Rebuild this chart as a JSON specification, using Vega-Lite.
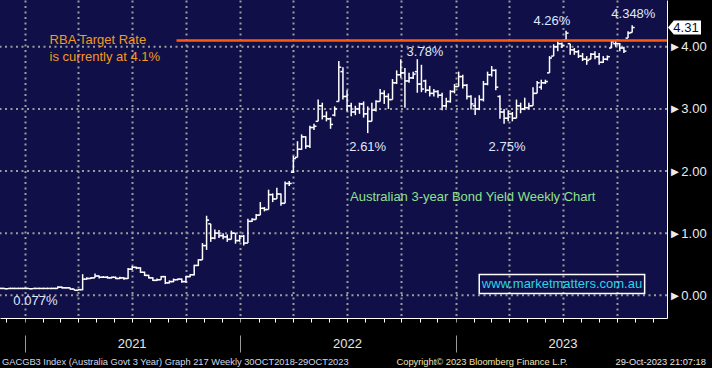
{
  "$schema": "https://vega.github.io/schema/vega-lite/v6.json",
  "width": 667,
  "height": 318,
  "autosize": "none",
  "padding": {"left": 0, "top": 0, "right": 45, "bottom": 50},
  "background": "#000000",
  "config": {
    "view": {"fill": "#110f47", "stroke": null},
    "font": "Liberation Sans"
  },
  "title": {
    "text": "GACGB3 Index (Australia Govt 3 Year) Graph 217  Weekly 30OCT2018-29OCT2023",
    "orient": "top", "anchor": "start", "frame": "group", "offset": 0, "dx": 2, "dy": 371,
    "font": "Liberation Sans", "fontSize": 9.3, "fontWeight": "normal",
    "color": "#d0d9ea", "baseline": "middle"
  },
  "datasets": {
    "bars": [
      {"d":"2020-11-20","o":0.11,"h":0.12,"l":0.10,"c":0.11},
      {"d":"2020-11-27","o":0.11,"h":0.12,"l":0.10,"c":0.105},
      {"d":"2020-12-04","o":0.105,"h":0.115,"l":0.10,"c":0.11},
      {"d":"2020-12-11","o":0.11,"h":0.12,"l":0.10,"c":0.11},
      {"d":"2020-12-18","o":0.11,"h":0.115,"l":0.10,"c":0.11},
      {"d":"2020-12-25","o":0.11,"h":0.12,"l":0.10,"c":0.11},
      {"d":"2021-01-01","o":0.11,"h":0.12,"l":0.105,"c":0.11},
      {"d":"2021-01-08","o":0.11,"h":0.115,"l":0.10,"c":0.105},
      {"d":"2021-01-15","o":0.105,"h":0.115,"l":0.10,"c":0.11},
      {"d":"2021-01-22","o":0.11,"h":0.115,"l":0.10,"c":0.11},
      {"d":"2021-01-29","o":0.11,"h":0.115,"l":0.10,"c":0.11},
      {"d":"2021-02-05","o":0.11,"h":0.115,"l":0.10,"c":0.11},
      {"d":"2021-02-12","o":0.11,"h":0.115,"l":0.105,"c":0.11},
      {"d":"2021-02-19","o":0.11,"h":0.12,"l":0.10,"c":0.11},
      {"d":"2021-02-26","o":0.11,"h":0.145,"l":0.11,"c":0.13},
      {"d":"2021-03-05","o":0.13,"h":0.14,"l":0.11,"c":0.12},
      {"d":"2021-03-12","o":0.12,"h":0.13,"l":0.11,"c":0.12},
      {"d":"2021-03-19","o":0.12,"h":0.12,"l":0.09,"c":0.10},
      {"d":"2021-03-26","o":0.10,"h":0.10,"l":0.077,"c":0.08},
      {"d":"2021-04-02","o":0.08,"h":0.10,"l":0.08,"c":0.09},
      {"d":"2021-04-09","o":0.09,"h":0.34,"l":0.08,"c":0.26},
      {"d":"2021-04-16","o":0.26,"h":0.29,"l":0.25,"c":0.27},
      {"d":"2021-04-23","o":0.27,"h":0.29,"l":0.26,"c":0.28},
      {"d":"2021-04-30","o":0.28,"h":0.35,"l":0.28,"c":0.31},
      {"d":"2021-05-07","o":0.31,"h":0.32,"l":0.27,"c":0.29},
      {"d":"2021-05-14","o":0.29,"h":0.31,"l":0.28,"c":0.29},
      {"d":"2021-05-21","o":0.29,"h":0.31,"l":0.27,"c":0.28},
      {"d":"2021-05-28","o":0.28,"h":0.30,"l":0.27,"c":0.29},
      {"d":"2021-06-04","o":0.29,"h":0.30,"l":0.26,"c":0.27},
      {"d":"2021-06-11","o":0.27,"h":0.30,"l":0.26,"c":0.28},
      {"d":"2021-06-18","o":0.28,"h":0.29,"l":0.25,"c":0.27},
      {"d":"2021-06-25","o":0.27,"h":0.44,"l":0.26,"c":0.42},
      {"d":"2021-07-02","o":0.42,"h":0.47,"l":0.41,"c":0.45},
      {"d":"2021-07-09","o":0.45,"h":0.46,"l":0.42,"c":0.44},
      {"d":"2021-07-16","o":0.44,"h":0.45,"l":0.36,"c":0.37},
      {"d":"2021-07-23","o":0.37,"h":0.38,"l":0.31,"c":0.32},
      {"d":"2021-07-30","o":0.32,"h":0.33,"l":0.27,"c":0.28},
      {"d":"2021-08-06","o":0.28,"h":0.29,"l":0.23,"c":0.24},
      {"d":"2021-08-13","o":0.24,"h":0.27,"l":0.23,"c":0.25},
      {"d":"2021-08-20","o":0.25,"h":0.31,"l":0.25,"c":0.30},
      {"d":"2021-08-27","o":0.30,"h":0.31,"l":0.18,"c":0.20},
      {"d":"2021-09-03","o":0.20,"h":0.24,"l":0.19,"c":0.22},
      {"d":"2021-09-10","o":0.22,"h":0.27,"l":0.21,"c":0.25},
      {"d":"2021-09-17","o":0.25,"h":0.27,"l":0.24,"c":0.26},
      {"d":"2021-09-24","o":0.26,"h":0.27,"l":0.20,"c":0.22},
      {"d":"2021-10-01","o":0.22,"h":0.31,"l":0.20,"c":0.30},
      {"d":"2021-10-08","o":0.30,"h":0.34,"l":0.29,"c":0.33},
      {"d":"2021-10-15","o":0.33,"h":0.49,"l":0.32,"c":0.48},
      {"d":"2021-10-22","o":0.48,"h":0.58,"l":0.47,"c":0.57},
      {"d":"2021-10-29","o":0.57,"h":0.84,"l":0.57,"c":0.80},
      {"d":"2021-11-05","o":0.80,"h":1.28,"l":0.73,"c":1.21},
      {"d":"2021-11-12","o":1.15,"h":1.15,"l":0.86,"c":0.92},
      {"d":"2021-11-19","o":0.92,"h":1.06,"l":0.90,"c":1.00},
      {"d":"2021-11-26","o":1.00,"h":1.05,"l":0.92,"c":0.96},
      {"d":"2021-12-03","o":0.96,"h":1.00,"l":0.90,"c":0.94},
      {"d":"2021-12-10","o":0.94,"h":0.98,"l":0.86,"c":0.90},
      {"d":"2021-12-17","o":0.90,"h":1.04,"l":0.90,"c":1.00},
      {"d":"2021-12-24","o":1.00,"h":1.00,"l":0.83,"c":0.88},
      {"d":"2021-12-31","o":0.88,"h":0.97,"l":0.86,"c":0.95},
      {"d":"2022-01-07","o":0.95,"h":0.97,"l":0.80,"c":0.84},
      {"d":"2022-01-14","o":0.84,"h":1.23,"l":0.84,"c":1.19},
      {"d":"2022-01-21","o":1.19,"h":1.24,"l":1.18,"c":1.22},
      {"d":"2022-01-28","o":1.22,"h":1.31,"l":1.22,"c":1.29},
      {"d":"2022-02-04","o":1.29,"h":1.50,"l":1.29,"c":1.40},
      {"d":"2022-02-11","o":1.40,"h":1.42,"l":1.35,"c":1.38},
      {"d":"2022-02-18","o":1.38,"h":1.70,"l":1.38,"c":1.62},
      {"d":"2022-02-25","o":1.62,"h":1.64,"l":1.50,"c":1.55},
      {"d":"2022-03-04","o":1.55,"h":1.73,"l":1.55,"c":1.63},
      {"d":"2022-03-11","o":1.63,"h":1.64,"l":1.44,"c":1.48},
      {"d":"2022-03-18","o":1.48,"h":1.83,"l":1.48,"c":1.80},
      {"d":"2022-03-25","o":1.80,"h":1.84,"l":1.76,"c":1.80},
      {"d":"2022-04-01","o":1.98,"h":2.24,"l":1.97,"c":2.20},
      {"d":"2022-04-08","o":2.22,"h":2.48,"l":2.22,"c":2.35},
      {"d":"2022-04-15","o":2.35,"h":2.59,"l":2.34,"c":2.55},
      {"d":"2022-04-22","o":2.55,"h":2.56,"l":2.36,"c":2.40},
      {"d":"2022-04-29","o":2.40,"h":2.73,"l":2.37,"c":2.70},
      {"d":"2022-05-06","o":2.70,"h":2.76,"l":2.66,"c":2.72},
      {"d":"2022-05-13","o":2.80,"h":3.15,"l":2.80,"c":3.05},
      {"d":"2022-05-20","o":3.05,"h":3.10,"l":2.83,"c":2.88},
      {"d":"2022-05-27","o":2.88,"h":2.96,"l":2.80,"c":2.84},
      {"d":"2022-06-03","o":2.84,"h":2.86,"l":2.68,"c":2.75},
      {"d":"2022-06-10","o":2.90,"h":3.04,"l":2.88,"c":3.00},
      {"d":"2022-06-17","o":3.12,"h":3.77,"l":3.12,"c":3.67},
      {"d":"2022-06-24","o":3.60,"h":3.67,"l":3.15,"c":3.20},
      {"d":"2022-07-01","o":3.20,"h":3.30,"l":2.96,"c":3.05},
      {"d":"2022-07-08","o":3.05,"h":3.10,"l":2.88,"c":2.95},
      {"d":"2022-07-15","o":2.95,"h":3.05,"l":2.90,"c":3.00},
      {"d":"2022-07-22","o":3.00,"h":3.10,"l":2.92,"c":3.08},
      {"d":"2022-07-29","o":3.08,"h":3.12,"l":2.86,"c":2.92},
      {"d":"2022-08-05","o":2.92,"h":3.04,"l":2.61,"c":2.80},
      {"d":"2022-08-12","o":2.80,"h":3.10,"l":2.80,"c":2.98},
      {"d":"2022-08-19","o":2.98,"h":3.14,"l":2.96,"c":3.12},
      {"d":"2022-08-26","o":3.12,"h":3.32,"l":3.12,"c":3.25},
      {"d":"2022-09-02","o":3.25,"h":3.30,"l":3.08,"c":3.20},
      {"d":"2022-09-09","o":3.20,"h":3.25,"l":3.00,"c":3.15},
      {"d":"2022-09-16","o":3.15,"h":3.48,"l":3.15,"c":3.42},
      {"d":"2022-09-23","o":3.42,"h":3.62,"l":3.40,"c":3.55},
      {"d":"2022-09-30","o":3.55,"h":3.80,"l":3.50,"c":3.58},
      {"d":"2022-10-07","o":3.58,"h":3.66,"l":3.02,"c":3.45},
      {"d":"2022-10-14","o":3.45,"h":3.58,"l":3.42,"c":3.50},
      {"d":"2022-10-21","o":3.50,"h":3.60,"l":3.48,"c":3.56},
      {"d":"2022-10-28","o":3.60,"h":3.80,"l":3.26,"c":3.40},
      {"d":"2022-11-04","o":3.40,"h":3.71,"l":3.27,"c":3.32},
      {"d":"2022-11-11","o":3.45,"h":3.47,"l":3.26,"c":3.30},
      {"d":"2022-11-18","o":3.30,"h":3.37,"l":3.20,"c":3.25},
      {"d":"2022-11-25","o":3.25,"h":3.32,"l":3.20,"c":3.28},
      {"d":"2022-12-02","o":3.28,"h":3.30,"l":3.18,"c":3.22},
      {"d":"2022-12-09","o":3.22,"h":3.26,"l":2.98,"c":3.05},
      {"d":"2022-12-16","o":3.05,"h":3.18,"l":3.02,"c":3.12},
      {"d":"2022-12-23","o":3.12,"h":3.30,"l":3.10,"c":3.28},
      {"d":"2022-12-30","o":3.28,"h":3.40,"l":3.25,"c":3.36},
      {"d":"2023-01-06","o":3.36,"h":3.60,"l":3.36,"c":3.52},
      {"d":"2023-01-13","o":3.52,"h":3.55,"l":3.33,"c":3.38},
      {"d":"2023-01-20","o":3.38,"h":3.40,"l":3.15,"c":3.20},
      {"d":"2023-01-27","o":3.20,"h":3.22,"l":2.99,"c":3.08},
      {"d":"2023-02-03","o":3.05,"h":3.18,"l":2.90,"c":3.00},
      {"d":"2023-02-10","o":3.00,"h":3.22,"l":2.98,"c":3.15},
      {"d":"2023-02-17","o":3.15,"h":3.45,"l":3.12,"c":3.40},
      {"d":"2023-02-24","o":3.40,"h":3.60,"l":3.38,"c":3.55},
      {"d":"2023-03-03","o":3.55,"h":3.69,"l":3.52,"c":3.62},
      {"d":"2023-03-10","o":3.62,"h":3.64,"l":3.30,"c":3.35},
      {"d":"2023-03-17","o":3.20,"h":3.22,"l":2.84,"c":2.95},
      {"d":"2023-03-24","o":2.95,"h":3.00,"l":2.76,"c":2.85},
      {"d":"2023-03-31","o":2.85,"h":2.98,"l":2.80,"c":2.92},
      {"d":"2023-04-07","o":2.92,"h":2.95,"l":2.80,"c":2.85},
      {"d":"2023-04-14","o":2.85,"h":3.15,"l":2.85,"c":3.05},
      {"d":"2023-04-21","o":3.05,"h":3.10,"l":2.93,"c":3.00},
      {"d":"2023-04-28","o":3.00,"h":3.18,"l":2.98,"c":3.02},
      {"d":"2023-05-05","o":3.02,"h":3.10,"l":2.99,"c":3.05},
      {"d":"2023-05-12","o":3.05,"h":3.35,"l":3.05,"c":3.25},
      {"d":"2023-05-19","o":3.25,"h":3.45,"l":3.25,"c":3.42},
      {"d":"2023-05-26","o":3.35,"h":3.47,"l":3.31,"c":3.42},
      {"d":"2023-06-02","o":3.42,"h":3.47,"l":3.40,"c":3.44},
      {"d":"2023-06-09","o":3.58,"h":3.85,"l":3.58,"c":3.82},
      {"d":"2023-06-16","o":3.85,"h":4.04,"l":3.85,"c":4.00},
      {"d":"2023-06-23","o":4.00,"h":4.09,"l":3.93,"c":4.05},
      {"d":"2023-06-30","o":4.05,"h":4.07,"l":3.98,"c":4.02},
      {"d":"2023-07-07","o":4.10,"h":4.26,"l":4.09,"c":4.22},
      {"d":"2023-07-14","o":4.05,"h":4.05,"l":3.87,"c":3.95},
      {"d":"2023-07-21","o":3.95,"h":3.98,"l":3.87,"c":3.92},
      {"d":"2023-07-28","o":3.92,"h":3.95,"l":3.82,"c":3.85},
      {"d":"2023-08-04","o":3.85,"h":3.90,"l":3.77,"c":3.80},
      {"d":"2023-08-11","o":3.80,"h":3.85,"l":3.71,"c":3.78},
      {"d":"2023-08-18","o":3.80,"h":3.90,"l":3.80,"c":3.88},
      {"d":"2023-08-25","o":3.88,"h":3.93,"l":3.80,"c":3.84},
      {"d":"2023-09-01","o":3.84,"h":3.90,"l":3.71,"c":3.75},
      {"d":"2023-09-08","o":3.75,"h":3.85,"l":3.74,"c":3.80},
      {"d":"2023-09-15","o":3.80,"h":3.86,"l":3.78,"c":3.84},
      {"d":"2023-09-22","o":3.98,"h":4.11,"l":3.98,"c":4.08},
      {"d":"2023-09-29","o":4.05,"h":4.11,"l":4.00,"c":4.05},
      {"d":"2023-10-06","o":4.05,"h":4.06,"l":3.93,"c":3.98},
      {"d":"2023-10-13","o":3.98,"h":4.00,"l":3.90,"c":3.93},
      {"d":"2023-10-20","o":4.14,"h":4.25,"l":4.14,"c":4.22},
      {"d":"2023-10-27","o":4.23,"h":4.348,"l":4.23,"c":4.31}
    ]
  },
  "layer": [
    {
      "mark": {"type": "rect", "color": "#110f47"},
      "encoding": {
        "x": {"datum": {"year": 2023, "month": 12, "date": 25, "utc": true}, "type": "temporal"},
        "x2": {"datum": {"year": 2024, "month": 6, "date": 1, "utc": true}},
        "y": {"datum": 4.753, "type": "quantitative"},
        "y2": {"datum": -0.366}
      }
    },
    {
      "data": {"values": [{"g": 0}, {"g": 1}, {"g": 2}, {"g": 3}, {"g": 4}]},
      "mark": {"type": "rule", "color": "#9c9c9c", "strokeWidth": 2, "strokeDash": [2, 3.5]},
      "encoding": {"y": {"field": "g", "type": "quantitative"}}
    },
    {
      "data": {"name": "bars"},
      "mark": {"type": "rule", "color": "#ffffff", "strokeWidth": 1.5, "clip": true},
      "encoding": {
        "x": {
          "field": "d", "type": "temporal",
          "scale": {"type": "utc", "domain": [{"year": 2020, "month": 11, "date": 20, "utc": true}, {"year": 2023, "month": 12, "date": 25, "utc": true}]},
          "axis": {
            "title": "Copyright© 2023 Bloomberg Finance L.P.",
            "titleX": 396, "titleY": 43, "titleAlign": "left", "titleBaseline": "middle",
            "titleFont": "Liberation Sans", "titleFontSize": 9.3, "titleFontWeight": "normal", "titleColor": "#f2e3b0",
            "tickCount": {"interval": "month", "step": 1},
            "tickSize": {"condition": {"test": "utcmonth(datum.value) == 0", "value": 34}, "value": 4},
            "tickDash": {"condition": {"test": "utcmonth(datum.value) == 0", "value": [4, 13, 17, 100]}, "value": [4, 0]},
            "tickColor": {"condition": {"test": "utcmonth(datum.value) == 0", "value": "#9a9a9a"}, "value": "#ffffff"},
            "tickWidth": 1,
            "labelExpr": "utcmonth(datum.value) == 6 ? utcFormat(datum.value, '%Y') : ''",
            "labelColor": "#e6e6e6", "labelFontSize": 13, "labelPadding": 15,
            "labelOverlap": false, "labelFlush": false, "labelBound": false,
            "grid": true, "gridColor": "#9c9c9c", "gridDash": [2, 3.5], "gridWidth": 2,
            "gridOpacity": {"condition": {"test": "utcmonth(datum.value) % 3 == 0", "value": 1}, "value": 0},
            "domainColor": "#ffffff"
          }
        },
        "y": {
          "field": "l", "type": "quantitative",
          "scale": {"domain": [-0.366, 4.753], "nice": false, "zero": false},
          "axis": {
            "orient": "right", "values": [0, 0.5, 1, 1.5, 2, 2.5, 3, 3.5, 4, 4.5],
            "labelExpr": "datum.value % 1 == 0 ? '►' + format(datum.value, '.2f') : ''",
            "grid": false, "zindex": 1,
            "tickColor": "#ffffff", "tickSize": 4,
            "tickOpacity": {"condition": {"test": "datum.value % 1 == 0", "value": 0}, "value": 1},
            "labelColor": "#ebebeb", "labelFontSize": 13, "labelPadding": -3, "labelBaseline": "middle",
            "domainColor": "#ffffff",
            "title": "29-Oct-2023 21:07:18", "titleAngle": 0, "titleX": -52, "titleY": 361,
            "titleAlign": "left", "titleBaseline": "middle",
            "titleFont": "Liberation Sans", "titleFontSize": 9.3, "titleFontWeight": "normal", "titleColor": "#e6e6e6"
          }
        },
        "y2": {"field": "h"}
      }
    },
    {
      "data": {"name": "bars"},
      "mark": {"type": "rule", "color": "#ffffff", "strokeWidth": 1.5, "xOffset": -2.5, "clip": true},
      "encoding": {
        "x": {"field": "d", "type": "temporal"},
        "x2": {"field": "d"},
        "y": {"field": "o", "type": "quantitative"}
      }
    },
    {
      "data": {"name": "bars"},
      "mark": {"type": "rule", "color": "#ffffff", "strokeWidth": 1.5, "x2Offset": 2.5, "clip": true},
      "encoding": {
        "x": {"field": "d", "type": "temporal"},
        "x2": {"field": "d"},
        "y": {"field": "c", "type": "quantitative"}
      }
    },
    {
      "data": {"values": [{"d1": "2021-09-15", "d2": "2023-12-25", "rate": 4.1}]},
      "mark": {"type": "rule", "color": "#ff5a0e", "strokeWidth": 2.5},
      "encoding": {
        "x": {"field": "d1", "type": "temporal"},
        "x2": {"field": "d2"},
        "y": {"field": "rate", "type": "quantitative"}
      }
    },
    {
      "data": {"values": [
        {"d": "2021-02-12", "v": 4.11, "t": "RBA Target Rate"},
        {"d": "2021-02-12", "v": 3.84, "t": "is currently at 4.1%"}
      ]},
      "mark": {"type": "text", "align": "left", "baseline": "middle", "fontSize": 13, "color": "#f39a1f"},
      "encoding": {
        "x": {"field": "d", "type": "temporal"},
        "y": {"field": "v", "type": "quantitative"},
        "text": {"field": "t"}
      }
    },
    {
      "data": {"values": [
        {"d": "2022-11-10", "v": 3.91, "t": "3.78%"},
        {"d": "2022-08-05", "v": 2.38, "t": "2.61%"},
        {"d": "2023-03-29", "v": 2.38, "t": "2.75%"},
        {"d": "2023-06-13", "v": 4.41, "t": "4.26%"},
        {"d": "2023-10-29", "v": 4.52, "t": "4.348%"},
        {"d": "2021-01-19", "v": -0.097, "t": "0.077%"}
      ]},
      "mark": {"type": "text", "align": "center", "baseline": "middle", "fontSize": 13, "color": "#dde8ff"},
      "encoding": {
        "x": {"field": "d", "type": "temporal"},
        "y": {"field": "v", "type": "quantitative"},
        "text": {"field": "t"}
      }
    },
    {
      "data": {"values": [{"d": "2022-07-06", "v": 1.58, "t": "Australian 3-year Bond Yield Weekly Chart"}]},
      "mark": {"type": "text", "align": "left", "baseline": "middle", "fontSize": 13, "color": "#8fe08f"},
      "encoding": {
        "x": {"field": "d", "type": "temporal"},
        "y": {"field": "v", "type": "quantitative"},
        "text": {"field": "t"}
      }
    },
    {
      "data": {"values": [{"d": "2023-06-30", "v": 0.18, "t": "www.marketmatters.com.au"}]},
      "layer": [
        {
          "mark": {"type": "point", "shape": "M -1 -0.115 L 1 -0.115 L 1 0.115 L -1 0.115 Z", "size": 27357, "filled": false, "color": "#ffffff", "opacity": 1, "strokeWidth": 1.5},
          "encoding": {
            "x": {"field": "d", "type": "temporal"},
            "y": {"field": "v", "type": "quantitative"}
          }
        },
        {
          "mark": {"type": "text", "align": "center", "baseline": "middle", "fontSize": 13, "color": "#2ad4e6"},
          "encoding": {
            "x": {"field": "d", "type": "temporal"},
            "y": {"field": "v", "type": "quantitative"},
            "text": {"field": "t"}
          }
        }
      ]
    },
    {
      "data": {"values": [{"v": 4.31, "t": "4.31"}]},
      "layer": [
        {
          "mark": {"type": "point", "shape": "M -1 0 L -0.65 -0.424 L 1 -0.424 L 1 0.424 L -0.65 0.424 Z", "size": 1089, "filled": true, "color": "#ffffff", "opacity": 1, "xOffset": 17.5},
          "encoding": {
            "x": {"datum": {"year": 2023, "month": 12, "date": 25, "utc": true}, "type": "temporal"},
            "y": {"field": "v", "type": "quantitative"}
          }
        },
        {
          "mark": {"type": "text", "align": "center", "baseline": "middle", "fontSize": 13, "color": "#0a0a30", "xOffset": 19},
          "encoding": {
            "x": {"datum": {"year": 2023, "month": 12, "date": 25, "utc": true}, "type": "temporal"},
            "y": {"field": "v", "type": "quantitative"},
            "text": {"field": "t"}
          }
        }
      ]
    }
  ]
}
